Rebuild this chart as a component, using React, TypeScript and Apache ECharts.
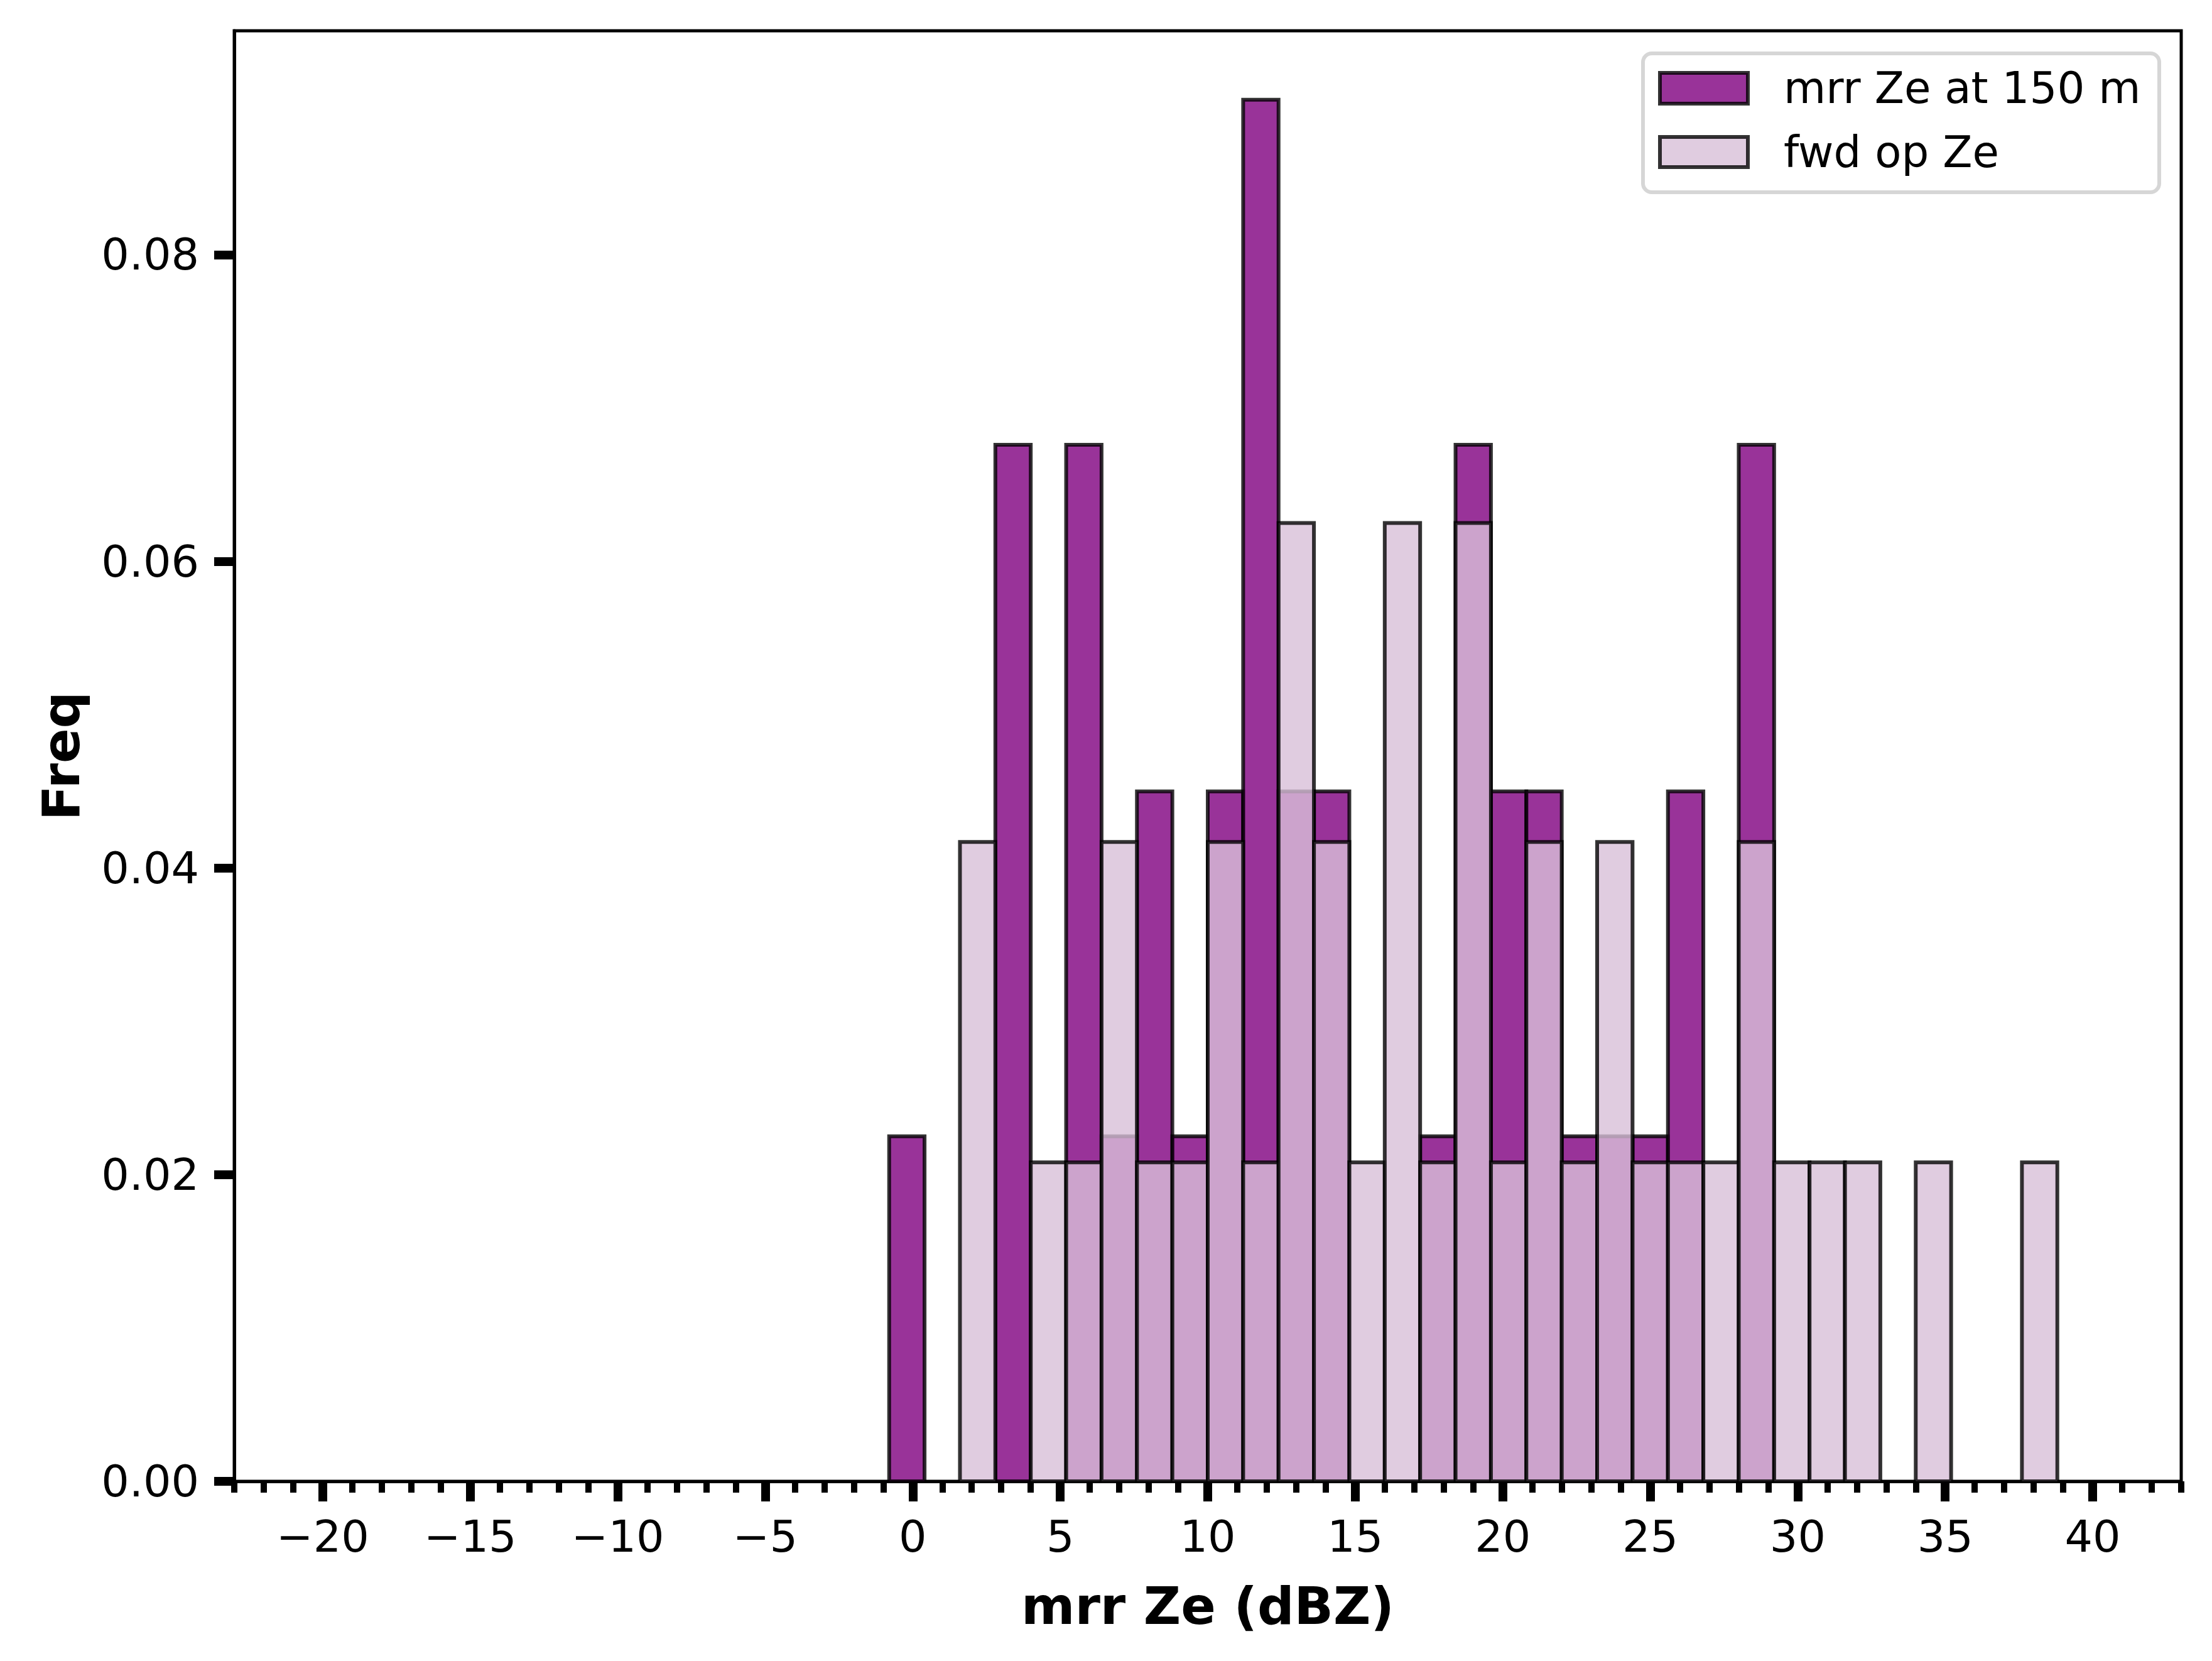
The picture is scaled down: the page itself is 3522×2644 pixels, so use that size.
import React, { useEffect, useRef } from "react";
import * as echarts from "echarts";

// Histogram bin edges (dBZ)
const binEdges = [
  -0.8, 0.4, 1.6, 2.8, 4.0, 5.2, 6.4, 7.6, 8.8, 10.0, 11.2, 12.4, 13.6, 14.8, 16.0, 17.2,
  18.4, 19.6, 20.8, 22.0, 23.2, 24.4, 25.6, 26.8, 28.0, 29.2, 30.4, 31.6, 32.8, 34.0, 35.2,
  36.4, 37.6, 38.8,
];

// Density per bin: mrr Ze at 150 m
const mrrFreq = [
  0.0225, 0, 0, 0.0676, 0, 0.0676, 0.0225, 0.045, 0.0225, 0.045, 0.0901, 0.045, 0.045, 0, 0,
  0.0225, 0.0676, 0.045, 0.045, 0.0225, 0.0225, 0.0225, 0.045, 0, 0.0676, 0, 0, 0, 0, 0, 0, 0, 0,
];

// Density per bin: fwd op Ze
const fwdFreq = [
  0, 0, 0.0417, 0, 0.0208, 0.0208, 0.0417, 0.0208, 0.0208, 0.0417, 0.0208, 0.0625, 0.0417,
  0.0208, 0.0625, 0.0208, 0.0625, 0.0208, 0.0417, 0.0208, 0.0417, 0.0208, 0.0208, 0.0208,
  0.0417, 0.0208, 0.0208, 0.0208, 0, 0.0208, 0, 0, 0.0208,
];

const seriesNames = ["mrr Ze at 150 m", "fwd op Ze"];
const xMajorTicks = [-20, -15, -10, -5, 0, 5, 10, 15, 20, 25, 30, 35, 40];
const xMinorTicks = Array.from({ length: 67 }, (_, i) => i - 23);
const yTicks = [0, 0.02, 0.04, 0.06, 0.08];
const xRange = [-23, 43];
const yRange = [0, 0.0946];

const FONT = '"DejaVu Sans", "Liberation Sans", sans-serif';
const MRR_FILL = "rgba(128,0,128,0.8)";
const FWD_FILL = "rgba(216,191,216,0.8)";
const EDGE = "rgba(0,0,0,0.8)";

function binData(freq: number[]) {
  const out: number[][] = [];
  for (let i = 0; i < freq.length; i++) {
    if (freq[i] > 0) out.push([binEdges[i], binEdges[i + 1], freq[i]]);
  }
  return out;
}

function makeRender(fill: string) {
  return (_params: any, api: any) => {
    const x0 = api.value(0);
    const x1 = api.value(1);
    const y = api.value(2);
    const p0 = api.coord([x0, y]);
    const p1 = api.coord([x1, 0]);
    return {
      type: "rect",
      shape: { x: p0[0], y: p0[1], width: p1[0] - p0[0], height: p1[1] - p0[1] },
      style: { fill, stroke: EDGE, lineWidth: 6 },
    };
  };
}

const fmtX = (v: number) => (v < 0 ? "\u2212" + Math.abs(v) : String(v));

export default function App() {
  const ref = useRef<HTMLDivElement>(null);

  useEffect(() => {
    if (!ref.current) return;
    const chart = echarts.init(ref.current, null, { renderer: "svg" });
    const option: any = {
      animation: false,
      backgroundColor: "#ffffff",
      grid: {
        left: 373,
        right: 49,
        top: 49,
        bottom: 286,
        show: true,
        borderColor: "#000",
        borderWidth: 5,
        backgroundColor: "transparent",
      },
      xAxis: [
        {
          type: "value",
          min: xRange[0],
          max: xRange[1],
          position: "bottom",
          splitLine: { show: false },
          axisLine: { show: true, onZero: false, lineStyle: { color: "#000", width: 5 } },
          axisTick: {
            show: true,
            customValues: xMajorTicks,
            length: 32,
            lineStyle: { color: "#000", width: 14 },
          },
          axisLabel: {
            customValues: xMajorTicks,
            formatter: fmtX,
            fontSize: 70,
            fontFamily: FONT,
            color: "#000",
            margin: 53,
          },
          name: "mrr Ze (dBZ)",
          nameLocation: "middle",
          nameGap: 157,
          nameTextStyle: { fontSize: 82, fontWeight: "bold", fontFamily: FONT, color: "#000" },
        },
        {
          type: "value",
          min: xRange[0],
          max: xRange[1],
          position: "bottom",
          splitLine: { show: false },
          axisLine: { show: false, onZero: false },
          axisTick: {
            show: true,
            customValues: xMinorTicks,
            length: 18,
            lineStyle: { color: "#000", width: 10 },
          },
          axisLabel: { show: false },
        },
      ],
      yAxis: {
        type: "value",
        min: yRange[0],
        max: yRange[1],
        position: "left",
        splitLine: { show: false },
        axisLine: { show: true, onZero: false, lineStyle: { color: "#000", width: 5 } },
        axisTick: {
          show: true,
          customValues: yTicks,
          length: 32,
          lineStyle: { color: "#000", width: 14 },
        },
        axisLabel: {
          customValues: yTicks,
          formatter: (v: number) => v.toFixed(2),
          fontSize: 70,
          fontFamily: FONT,
          color: "#000",
          margin: 56,
        },
        name: "Freq",
        nameLocation: "middle",
        nameGap: 235,
        nameTextStyle: { fontSize: 82, fontWeight: "bold", fontFamily: FONT, color: "#000" },
      },
      series: [
        {
          name: seriesNames[0],
          type: "custom",
          xAxisIndex: 0,
          yAxisIndex: 0,
          renderItem: makeRender(MRR_FILL),
          encode: { x: [0, 1], y: 2 },
          data: binData(mrrFreq),
          z: 2,
        },
        {
          name: seriesNames[1],
          type: "custom",
          xAxisIndex: 0,
          yAxisIndex: 0,
          renderItem: makeRender(FWD_FILL),
          encode: { x: [0, 1], y: 2 },
          data: binData(fwdFreq),
          z: 3,
        },
      ],
      graphic: [
        {
          type: "rect",
          z: 100,
          shape: { x: 2616, y: 85, width: 822, height: 221, r: 14 },
          style: { fill: "rgba(255,255,255,0.8)", stroke: "rgba(204,204,204,0.8)", lineWidth: 6 },
        },
        {
          type: "rect",
          z: 101,
          shape: { x: 2643, y: 116, width: 140, height: 49 },
          style: { fill: MRR_FILL, stroke: EDGE, lineWidth: 6 },
        },
        {
          type: "rect",
          z: 101,
          shape: { x: 2643, y: 218, width: 140, height: 48 },
          style: { fill: FWD_FILL, stroke: EDGE, lineWidth: 6 },
        },
        {
          type: "text",
          z: 101,
          x: 2840,
          y: 140,
          style: {
            text: seriesNames[0],
            fontSize: 69,
            fontFamily: FONT,
            fill: "#000",
            align: "left",
            verticalAlign: "middle",
          },
        },
        {
          type: "text",
          z: 101,
          x: 2840,
          y: 242,
          style: {
            text: seriesNames[1],
            fontSize: 69,
            fontFamily: FONT,
            fill: "#000",
            align: "left",
            verticalAlign: "middle",
          },
        },
      ],
    };
    chart.setOption(option);
    return () => chart.dispose();
  }, []);

  return (
    <div
      ref={ref}
      style={{ position: "absolute", left: 0, top: 0, width: 3522, height: 2644, background: "#fff" }}
    />
  );
}
